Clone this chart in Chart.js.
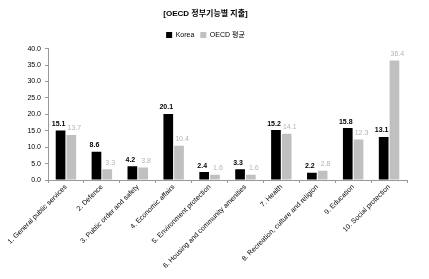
<!DOCTYPE html>
<html>
<head>
<meta charset="utf-8">
<script src="https://cdn.jsdelivr.net/npm/chart.js@4.4.1/dist/chart.umd.min.js"></script>
<style>
  html, body { margin: 0; padding: 0; background: #fff; }
  #wrap { width: 429px; height: 279px; }
</style>
</head>
<body>
<div id="wrap"><canvas id="myChart" width="429" height="279"></canvas></div>
<script>
// categories and values
const categories = [
  "1. General public services",
  "2. Defence",
  "3. Public order and safety",
  "4. Economic affairs",
  "5. Environment protection",
  "6. Housing and community amenities",
  "7. Health",
  "8. Recreation, culture and religion",
  "9. Education",
  "10. Social protection"
];
const koreaValues = [15.1, 8.6, 4.2, 20.1, 2.4, 3.3, 15.2, 2.2, 15.8, 13.1];
const oecdValues = [13.7, 3.3, 3.8, 10.4, 1.6, 1.6, 14.1, 2.8, 12.3, 36.4];
const seriesNames = ["Korea", "OECD 평균"];
const chartTitle = "[OECD 정부기능별 지출]";

const fontFam = "'Liberation Sans', 'Noto Sans CJK KR', sans-serif";

// 막대 위 값 표시
const valueLabels = {
  id: "valueLabels",
  afterDatasetsDraw(chart) {
    const ctx = chart.ctx;
    ctx.save();
    ctx.textBaseline = "bottom";
    chart.data.datasets.forEach((ds, i) => {
      const meta = chart.getDatasetMeta(i);
      meta.data.forEach((bar, j) => {
        if (i == 0) {
          ctx.font = "bold 7px " + fontFam;
          ctx.fillStyle = "#000";
          ctx.textAlign = "center";
          ctx.fillText(ds.data[j].toFixed(1), bar.x - 2, bar.y - 3);
        } else {
          ctx.font = "7px " + fontFam;
          ctx.fillStyle = "#b4b4b4";
          ctx.textAlign = "center";
          ctx.fillText(ds.data[j].toFixed(1), bar.x + 3, bar.y - 3);
        }
      });
    });
    ctx.restore();
  }
};

let myBarChart = new Chart("myChart", {
  type: "bar",
  data: {
    labels: categories,
    datasets: [
      {
        label: seriesNames[0],
        backgroundColor: "#000000",
        data: koreaValues,
        categoryPercentage: 0.6,
        barPercentage: 0.9
      },
      {
        label: seriesNames[1],
        backgroundColor: "#c0c0c0",
        data: oecdValues,
        categoryPercentage: 0.6,
        barPercentage: 0.9
      }
    ]
  },
  options: {
    responsive: false,
    animation: false,
    layout: { padding: { left: 4, right: 22, top: 0, bottom: 0 } },
    plugins: {
      title: {
        display: true,
        text: chartTitle,
        color: "#000",
        font: { family: fontFam, size: 8, weight: "bold" },
        padding: { top: 9, bottom: 7 }
      },
      legend: {
        display: true,
        labels: {
          color: "#000",
          font: { family: fontFam, size: 7 },
          boxWidth: 6,
          boxHeight: 6,
          padding: 6
        }
      },
      tooltip: { enabled: false }
    },
    scales: {
      x: {
        grid: {
          display: true,
          drawOnChartArea: false,
          offset: true,
          tickLength: 3,
          color: "#999"
        },
        border: { color: "#999" },
        ticks: {
          autoSkip: false,
          maxRotation: 45,
          minRotation: 45,
          padding: 0,
          color: "#000",
          font: { family: fontFam, size: 7 }
        },
        afterFit: (s) => { s.height = 99; }
      },
      y: {
        min: 0,
        max: 40,
        grid: {
          display: true,
          drawOnChartArea: false,
          tickLength: 3,
          color: "#999"
        },
        border: { color: "#999" },
        ticks: {
          stepSize: 5,
          padding: 4,
          color: "#000",
          font: { family: fontFam, size: 7 },
          callback: (v) => v.toFixed(1)
        },
        afterFit: (s) => { s.width = 44; }
      }
    }
  },
  plugins: [valueLabels]
});
</script>
</body>
</html>
